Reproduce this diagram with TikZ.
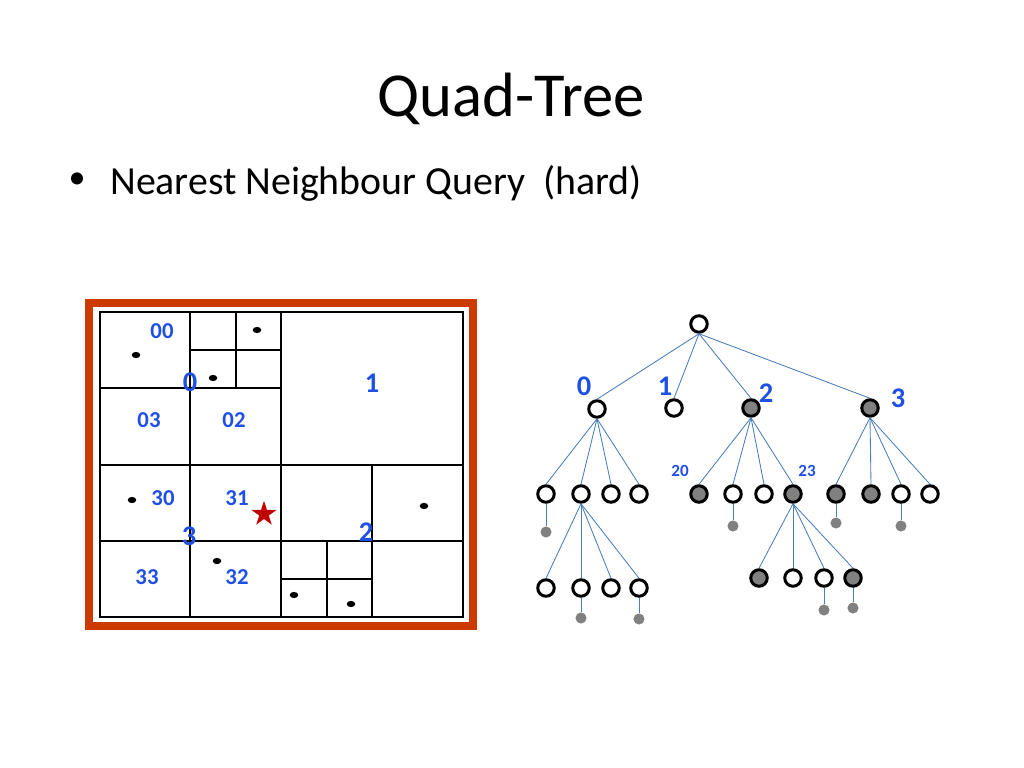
\documentclass[tikz,border=0pt]{standalone}
\usepackage{fontspec}
\setmainfont{Carlito}
\usetikzlibrary{shapes.geometric}
\definecolor{frameor}{RGB}{204,58,0}
\definecolor{labblue}{RGB}{30,80,230}
\definecolor{edgeblue}{RGB}{74,126,187}
\definecolor{nodegray}{RGB}{128,128,128}
\definecolor{starred}{RGB}{192,0,0}
\begin{document}
\begin{tikzpicture}[x=0.703125pt,y=-0.703125pt,
  lab/.style={text=labblue,font=\bfseries\fontsize{16}{16}\selectfont,inner sep=0},
  biglab/.style={text=labblue,font=\bfseries\fontsize{20}{20}\selectfont,inner sep=0},
  smalllab/.style={text=labblue,font=\bfseries\fontsize{12}{12}\selectfont,inner sep=0},
  pdot/.style={ellipse,fill=black,minimum width=6pt,minimum height=4.4pt,inner sep=0},
  tnode/.style={circle,draw=black,line width=2.1pt,minimum size=11.6pt,inner sep=0,fill=white},
  tgray/.style={tnode,fill=nodegray},
  leaf/.style={circle,fill=nodegray,minimum size=7.8pt,inner sep=0},
  edge/.style={draw=edgeblue,line width=0.6pt},
  gridline/.style={draw=black,line width=1.1pt}]
\useasboundingbox (0,0) rectangle (1024,768);
\fill[white] (0,0) rectangle (1024,768);

% title and bullet
\node[anchor=base,inner sep=0,font=\fontsize{44}{44}\selectfont] (title) at (511,117) {Quad-Tree};
\node[inner sep=0,font=\fontsize{24}{24}\selectfont] (bul) at (77,181) {•};
\node[anchor=base west,inner sep=0,font=\fontsize{28}{28}\selectfont] (sub) at (110,195) {Nearest Neighbour Query\ \ (hard)};

% frame
\draw[frameor,line width=5.6pt] (89,303) rectangle (473,626);
\draw[gridline] (100,312) rectangle (463,617);
\draw[gridline] (281,312) -- (281,617);
\draw[gridline] (100,465) -- (463,465);
% quadrant 0
\draw[gridline] (190,312) -- (190,465);
\draw[gridline] (100,388) -- (281,388);
\draw[gridline] (236,312) -- (236,388);
\draw[gridline] (190,350) -- (281,350);
% quadrant 3
\draw[gridline] (190,465) -- (190,617);
\draw[gridline] (100,541) -- (281,541);
% quadrant 2
\draw[gridline] (372,465) -- (372,617);
\draw[gridline] (281,541) -- (463,541);
\draw[gridline] (327,541) -- (327,617);
\draw[gridline] (281,579) -- (372,579);

% points
\node[pdot] (p1) at (136,355) {};
\node[pdot] (p2) at (257,330) {};
\node[pdot] (p3) at (213,378) {};
\node[pdot] (p4) at (132,500) {};
\node[pdot] (p5) at (217,561) {};
\node[pdot] (p6) at (424,506) {};
\node[pdot] (p7) at (294,595) {};
\node[pdot] (p8) at (351,604) {};

% query star
\node[star,star points=5,star point ratio=2.618,fill=starred,inner sep=0,minimum size=18.5pt] (q) at (264,514) {};

% grid labels
\node[lab] (l00) at (162,331) {00};
\node[biglab] (l0) at (190,382) {0};
\node[biglab] (l1) at (372,383) {1};
\node[lab] (l03) at (149,420) {03};
\node[lab] (l02) at (234,420) {02};
\node[lab] (l30) at (163,498) {30};
\node[lab] (l31) at (237,498) {31};
\node[biglab] (l3) at (189,536) {3};
\node[biglab] (l2) at (366,532) {2};
\node[lab] (l33) at (147,577) {33};
\node[lab] (l32) at (237,577) {32};

% tree nodes
\node[tnode] (r) at (699,324) {};
\node[tnode] (n0) at (597,409) {};
\node[tnode] (n1) at (674,408) {};
\node[tgray] (n2) at (751,408) {};
\node[tgray] (n3) at (870,408) {};

\node[tnode] (n00) at (546,494) {};
\node[tnode] (n01) at (581,494) {};
\node[tnode] (n02) at (611,494) {};
\node[tnode] (n03) at (639,494) {};

\node[tgray] (n20) at (699,494) {};
\node[tnode] (n21) at (733,494) {};
\node[tnode] (n22) at (764,494) {};
\node[tgray] (n23) at (793,494) {};

\node[tgray] (n30) at (836,494) {};
\node[tgray] (n31) at (871,494) {};
\node[tnode] (n32) at (901,494) {};
\node[tnode] (n33) at (930,494) {};

\node[tnode] (n010) at (546,588) {};
\node[tnode] (n011) at (581,588) {};
\node[tnode] (n012) at (611,588) {};
\node[tnode] (n013) at (639,588) {};

\node[tgray] (n230) at (759,578) {};
\node[tnode] (n231) at (793,578) {};
\node[tnode] (n232) at (824,578) {};
\node[tgray] (n233) at (853,578) {};

% leaf points
\node[leaf] (d00) at (546,532) {};
\node[leaf] (d21) at (733,526) {};
\node[leaf] (d30) at (836,523) {};
\node[leaf] (d32) at (901,526) {};
\node[leaf] (d011) at (581,618) {};
\node[leaf] (d013) at (639,619) {};
\node[leaf] (d232) at (824,610) {};
\node[leaf] (d233) at (853,608) {};

% edges
\foreach \c in {n0,n1,n2,n3} \draw[edge] (r.south) -- (\c.north);
\foreach \c in {n00,n01,n02,n03} \draw[edge] (n0.south) -- (\c.north);
\foreach \c in {n20,n21,n22,n23} \draw[edge] (n2.south) -- (\c.north);
\foreach \c in {n30,n31,n32,n33} \draw[edge] (n3.south) -- (\c.north);
\foreach \c in {n010,n011,n012,n013} \draw[edge] (n01.south) -- (\c.north);
\foreach \c in {n230,n231,n232,n233} \draw[edge] (n23.south) -- (\c.north);
\draw[edge] (n00.south) -- (d00);
\draw[edge] (n21.south) -- (d21);
\draw[edge] (n30.south) -- (d30);
\draw[edge] (n32.south) -- (d32);
\draw[edge] (n011.south) -- (d011);
\draw[edge] (n013.south) -- (d013);
\draw[edge] (n232.south) -- (d232);
\draw[edge] (n233.south) -- (d233);

% tree labels
\node[biglab] (t0) at (584,386) {0};
\node[biglab] (t1) at (665,386) {1};
\node[biglab] (t2) at (766,393) {2};
\node[biglab] (t3) at (898,398) {3};
\node[smalllab] (t20) at (680,471) {20};
\node[smalllab] (t23) at (807,471) {23};
\end{tikzpicture}
\end{document}
